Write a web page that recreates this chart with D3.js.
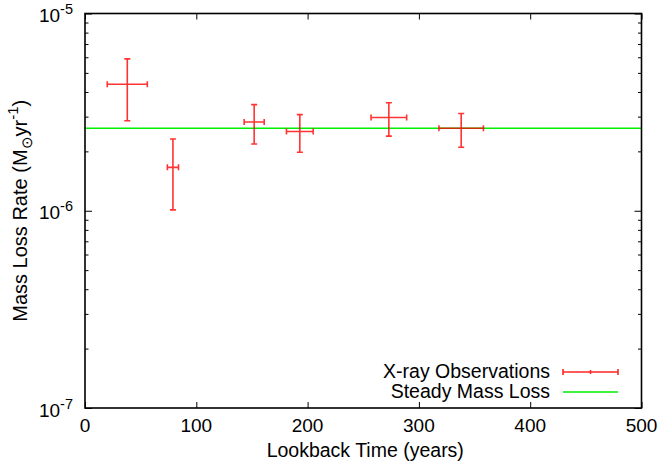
<!DOCTYPE html>
<html>
<head>
<meta charset="utf-8">
<script src="https://cdn.jsdelivr.net/npm/d3@7"></script>
<style>
  html, body { margin: 0; padding: 0; background: #fff; }
  svg { display: block; font-family: "Liberation Sans", Arial, sans-serif; }
</style>
</head>
<body>
<svg id="chart" width="660" height="468"></svg>
<script>
// ---- data ----
const lookback    = [38, 79, 152, 193, 273, 338];           // years
const lookbackErr = [18, 5, 9, 12, 16, 20];                  // years
const rate        = [4.38e-6, 1.66e-6, 2.82e-6, 2.52e-6, 2.97e-6, 2.62e-6];
const rateLow     = [2.86e-6, 1.01e-6, 2.18e-6, 1.98e-6, 2.39e-6, 2.10e-6];
const rateHigh    = [5.89e-6, 2.31e-6, 3.45e-6, 3.07e-6, 3.53e-6, 3.11e-6];
const steadyRate  = 2.62e-6;
const xTicks      = [0, 100, 200, 300, 400, 500];
const yMajorTicks = [1e-7, 1e-6, 1e-5];
const yTickExps   = ["-7", "-6", "-5"];
const legendLabels = ["X-ray Observations", "Steady Mass Loss"];

// ---- layout ----
const svg = d3.select("#chart");
const L = 85, R = 641.5, T = 13.5, B = 408;
const x = d3.scaleLinear().domain([0, 500]).range([L, R]);
const y = d3.scaleLog().domain([1e-7, 1e-5]).range([B, T]);

const yMinor = [];
for (let e = -7; e < -5; e++) for (let k = 2; k <= 9; k++) yMinor.push(k * Math.pow(10, e));

const fontSize = 19;

// x axes (bottom labels, top mirrored ticks)
const gx = svg.append("g").attr("transform", `translate(0,${B})`)
  .call(d3.axisBottom(x).tickValues(xTicks).tickSize(-6).tickPadding(0).tickFormat(""));
const gxt = svg.append("g").attr("transform", `translate(0,${T})`)
  .call(d3.axisTop(x).tickValues(xTicks).tickSize(-6).tickFormat(""));
// y axes major and minor
const gy = svg.append("g").attr("transform", `translate(${L},0)`)
  .call(d3.axisLeft(y).tickValues(yMajorTicks).tickSize(-7).tickFormat(""));
const gym = svg.append("g").attr("transform", `translate(${L},0)`)
  .call(d3.axisLeft(y).tickValues(yMinor).tickSize(-3.5).tickFormat(""));
const gyr = svg.append("g").attr("transform", `translate(${R},0)`)
  .call(d3.axisRight(y).tickValues(yMajorTicks).tickSize(-7).tickFormat(""));
const gyrm = svg.append("g").attr("transform", `translate(${R},0)`)
  .call(d3.axisRight(y).tickValues(yMinor).tickSize(-3.5).tickFormat(""));
[gx, gxt, gy, gym, gyr, gyrm].forEach(g => {
  g.select(".domain").remove();
  g.selectAll(".tick line").attr("stroke", "#000").attr("stroke-width", 1);
});

// x tick labels
svg.append("g").selectAll("text").data(xTicks).join("text")
  .attr("x", d => x(d)).attr("y", 432)
  .attr("text-anchor", "middle").attr("font-size", fontSize).attr("fill", "#000")
  .text(d => d);

// y tick labels 10^n
const yl = svg.append("g").selectAll("text").data(yMajorTicks).join("text")
  .attr("x", 73).attr("y", d => y(d) + 8.5)
  .attr("text-anchor", "end").attr("font-size", fontSize).attr("fill", "#000");
yl.append("tspan").text("10");
yl.append("tspan").attr("dy", -8).attr("font-size", 14.5).text((d, i) => yTickExps[i]);

// steady line
svg.append("line")
  .attr("x1", x(0)).attr("x2", x(500))
  .attr("y1", y(steadyRate)).attr("y2", y(steadyRate))
  .attr("stroke", "#00ee00").attr("stroke-width", 1.5);

// error bars
const red = "#ff0000";
const eb = svg.append("g").attr("stroke", red).attr("stroke-width", 1.6)
  .attr("stroke-opacity", 0.8).attr("fill", "none");
const cap = 3;
lookback.forEach((t, i) => {
  const cx = x(t), cy = y(rate[i]);
  const x0 = x(t - lookbackErr[i]), x1 = x(t + lookbackErr[i]);
  const y0 = y(rateLow[i]), y1 = y(rateHigh[i]);
  const p = d3.path();
  p.moveTo(x0, cy); p.lineTo(x1, cy);
  p.moveTo(x0, cy - cap); p.lineTo(x0, cy + cap);
  p.moveTo(x1, cy - cap); p.lineTo(x1, cy + cap);
  p.moveTo(cx, y0); p.lineTo(cx, y1);
  p.moveTo(cx - cap, y0); p.lineTo(cx + cap, y0);
  p.moveTo(cx - cap, y1); p.lineTo(cx + cap, y1);
  eb.append("path").attr("d", p.toString());
});

// border
svg.append("rect").attr("x", L).attr("y", T).attr("width", R - L).attr("height", B - T)
  .attr("fill", "none").attr("stroke", "#000").attr("stroke-width", 1.6);

// axis titles
svg.append("text").attr("x", (L + R) / 2 + 2).attr("y", 457)
  .attr("text-anchor", "middle").attr("font-size", fontSize + 0.5).attr("fill", "#000")
  .text("Lookback Time (years)");

const yt = svg.append("text").attr("transform", `translate(27,${(T + B) / 2}) rotate(-90)`)
  .attr("text-anchor", "middle").attr("font-size", 20).attr("fill", "#000");
yt.append("tspan").text("Mass Loss Rate (M");
yt.append("tspan").attr("dy", 5).attr("font-size", 15).text("\u2299");
yt.append("tspan").attr("dy", -5).text("yr");
yt.append("tspan").attr("dy", -9).attr("font-size", 15).text("-1");
yt.append("tspan").attr("dy", 9).text(")");

// legend
const lgX0 = 563, lgX1 = 618, lgY = [372, 392];
svg.append("g").selectAll("text").data(legendLabels).join("text")
  .attr("x", 550).attr("y", (d, i) => lgY[i] + 6)
  .attr("text-anchor", "end").attr("font-size", fontSize + 0.5).attr("fill", "#000")
  .text(d => d);
const lp = d3.path();
lp.moveTo(lgX0, lgY[0]); lp.lineTo(lgX1, lgY[0]);
lp.moveTo(lgX0, lgY[0] - cap); lp.lineTo(lgX0, lgY[0] + cap);
lp.moveTo(lgX1, lgY[0] - cap); lp.lineTo(lgX1, lgY[0] + cap);
lp.moveTo((lgX0 + lgX1) / 2, lgY[0] - 2); lp.lineTo((lgX0 + lgX1) / 2, lgY[0] + 2);
svg.append("path").attr("d", lp.toString()).attr("stroke", red).attr("stroke-width", 1.6)
  .attr("stroke-opacity", 0.85).attr("fill", "none");
svg.append("line").attr("x1", lgX0).attr("x2", lgX1).attr("y1", lgY[1]).attr("y2", lgY[1])
  .attr("stroke", "#00ee00").attr("stroke-width", 1.5);
</script>
</body>
</html>
